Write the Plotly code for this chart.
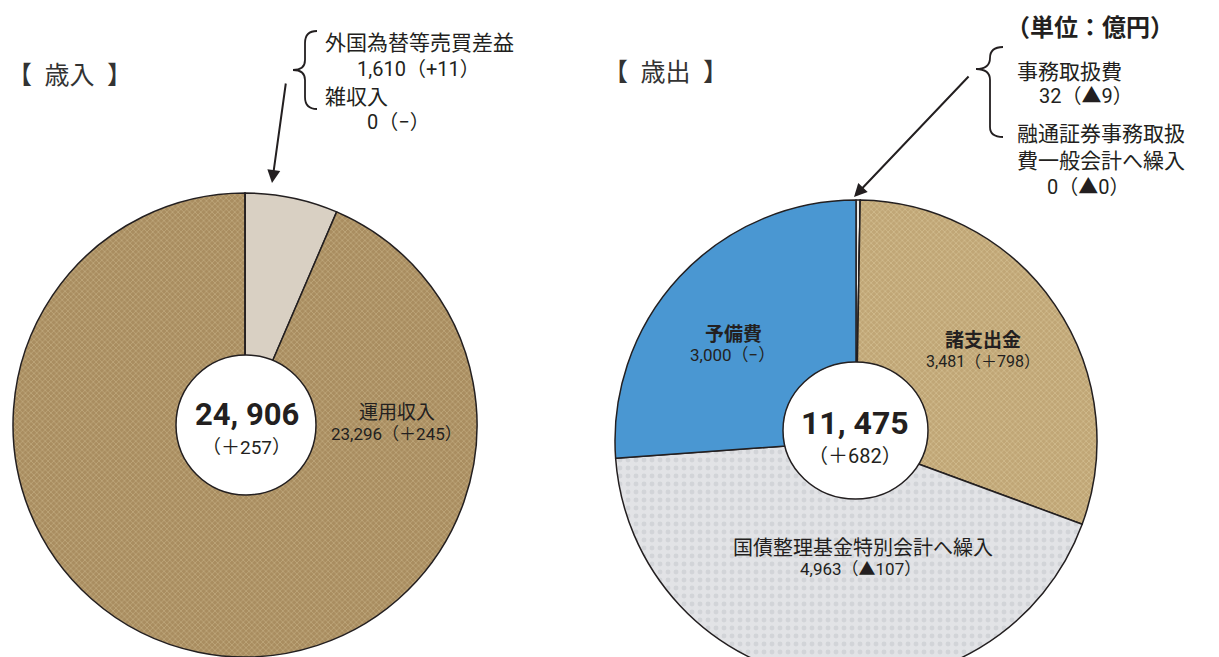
import plotly.graph_objects as go

# ---------------- data ----------------
rev_labels = ["外国為替等売買差益", "運用収入", "雑収入"]
rev_values = [1610, 23296, 0]
rev_changes = ["+11", "＋245", "−"]
rev_total = "24, 906"
rev_total_change = "（＋257）"

exp_labels = ["事務取扱費", "融通証券事務取扱費一般会計へ繰入", "諸支出金", "国債整理基金特別会計へ繰入", "予備費"]
exp_values = [32, 0, 3481, 4963, 3000]
exp_changes = ["▲9", "▲0", "＋798", "▲107", "−"]
exp_total = "11, 475"
exp_total_change = "（＋682）"

unit_label = "（単位：億円）"
rev_title = "【\u2002歳入\u2002】"
exp_title = "【\u2002歳出\u2002】"

# ---------------- layout helpers ----------------
W, H = 1219, 690
def px(x): return x / W
def py(y): return 1 - y / H

CJK = "Noto Sans CJK JP"
NUM = "Roboto, Noto Sans CJK JP"
TXT = "#231f20"

def fmt(v):
    return f"{v:,}"

fig = go.Figure()

line = dict(color="#231f20", width=1.5)

fig.add_trace(go.Pie(
    labels=rev_labels, values=rev_values, sort=False, direction="clockwise", rotation=0,
    textinfo="none", hoverinfo="label+value", showlegend=False,
    domain=dict(x=[px(13), px(477)], y=[py(657), py(193)]),
    marker=dict(colors=["#d9d0c3", "#a98d60", "#d9d0c3"], line=line,
                pattern=dict(shape=["", "x", ""], fgcolor=["#d9d0c3", "#d8c59c", "#d9d0c3"],
                             size=[6, 4, 6], solidity=[0.2, 0.35, 0.2], fillmode="overlay")),
))

fig.add_trace(go.Pie(
    labels=exp_labels, values=exp_values, sort=False, direction="clockwise", rotation=0,
    textinfo="none", hoverinfo="label+value", showlegend=False,
    domain=dict(x=[px(615), px(1097)], y=[py(682), py(200)]),
    marker=dict(colors=["#ecebe8", "#ecebe8", "#c0a676", "#e2e3e6", "#4a97d2"], line=line,
                pattern=dict(shape=["", "", "x", ".", ""],
                             fgcolor=["#ecebe8", "#ecebe8", "#e4d3ab", "#c2c5ca", "#4a97d2"],
                             size=[6, 6, 4, 8, 6], solidity=[0.2, 0.2, 0.35, 0.3, 0.2],
                             fillmode="overlay")),
))

shapes = []
# holes
shapes.append(dict(type="circle", xref="paper", yref="paper",
                   x0=px(176), x1=px(316), y0=py(495), y1=py(355),
                   fillcolor="white", line=dict(color="#231f20", width=1.5)))
shapes.append(dict(type="circle", xref="paper", yref="paper",
                   x0=px(783), x1=px(928), y0=py(499), y1=py(362),
                   fillcolor="white", line=dict(color="#231f20", width=1.5)))

def path(pts):
    s = ""
    for cmd, coords in pts:
        s += cmd + " " + " ".join(f"{px(coords[i]):.5f},{py(coords[i+1]):.5f}" for i in range(0, len(coords), 2)) + " "
    return s.strip()

# left brace
shapes.append(dict(type="path", xref="paper", yref="paper", line=dict(color=TXT, width=1.8),
                   path=path([("M", [317, 31]), ("Q", [305, 31, 305, 43]), ("L", [305, 60]),
                              ("Q", [305, 70, 293, 70]), ("Q", [305, 70, 305, 80]), ("L", [305, 97]),
                              ("Q", [305, 109, 317, 109])])))
# right brace
shapes.append(dict(type="path", xref="paper", yref="paper", line=dict(color=TXT, width=1.8),
                   path=path([("M", [1003, 47]), ("Q", [990, 47, 990, 58]), ("Q", [990, 69, 976, 69]),
                              ("Q", [990, 69, 990, 80]), ("L", [990, 127]),
                              ("Q", [990, 137, 1003, 137])])))

anns = []
def ann(text, x, y, size, family=CJK, bold=False, xanchor="center", color=TXT, align="center"):
    if bold:
        text = f"<b>{text}</b>"
    anns.append(dict(text=text, x=px(x), y=py(y), xref="paper", yref="paper",
                     xanchor=xanchor, yanchor="middle", showarrow=False, borderpad=0,
                     align=align, font=dict(family=family, size=size, color=color)))

# titles
ann(rev_title, 6, 73, 25, xanchor="left", color="#333333")
ann(exp_title, 602, 70, 25, xanchor="left", color="#333333")
ann(unit_label, 1090, 26, 24, bold=True)

# revenue small items
ann(rev_labels[0], 324, 41, 21, xanchor="left")
ann(f"{fmt(rev_values[0])}（{rev_changes[0]}）", 356, 69, 20, family=NUM, xanchor="left")
ann(rev_labels[2], 324, 95, 21, xanchor="left")
ann(f"{fmt(rev_values[2])}（{rev_changes[2]}）", 366, 122, 20, family=NUM, xanchor="left")

# expenditure small items
ann(exp_labels[0], 1016, 70, 21, xanchor="left")
ann(f"{fmt(exp_values[0])}（{exp_changes[0]}）", 1038, 96, 20, family=NUM, xanchor="left")
ann("融通証券事務取扱<br>費一般会計へ繰入", 1016, 146, 21, xanchor="left", align="left")
ann(f"{fmt(exp_values[1])}（{exp_changes[1]}）", 1046, 187, 20, family=NUM, xanchor="left")

# in-pie labels
ann(rev_labels[1], 397, 410, 19)
ann(f"{fmt(rev_values[1])}（{rev_changes[1]}）", 396, 434, 17, family=NUM)
ann(exp_labels[4], 733, 332, 19, bold=True)
ann(f"{fmt(exp_values[4])}（{exp_changes[4]}）", 732, 355, 17, family=NUM)
ann(exp_labels[2], 983, 338, 19, bold=True)
ann(f"{fmt(exp_values[2])}（{exp_changes[2]}）", 983, 361, 16, family=NUM)
ann(exp_labels[3], 863, 546, 20)
ann(f"{fmt(exp_values[3])}（{exp_changes[3]}）", 860, 569, 17, family=NUM)

# totals
ann(rev_total, 247, 414, 31, family=NUM, bold=True)
ann(rev_total_change, 246, 447, 19, family=NUM)
ann(exp_total, 855, 423, 32, family=NUM, bold=True)
ann(exp_total_change, 855, 456, 20, family=NUM)

# arrows
anns.append(dict(text="", x=px(272), y=py(183), xref="paper", yref="paper",
                 ax=14, ay=-101, axref="pixel", ayref="pixel", showarrow=True,
                 arrowhead=2, arrowsize=1.3, arrowwidth=2, arrowcolor=TXT))
anns.append(dict(text="", x=px(854), y=py(197), xref="paper", yref="paper",
                 ax=116, ay=-122, axref="pixel", ayref="pixel", showarrow=True,
                 arrowhead=2, arrowsize=1.3, arrowwidth=2, arrowcolor=TXT))

fig.update_layout(width=W, height=H, margin=dict(l=0, r=0, t=0, b=0),
                  paper_bgcolor="white", plot_bgcolor="white",
                  shapes=shapes, annotations=anns)

fig.write_html("out.html", config={"displayModeBar": False},
               post_script="document.body.style.margin='0';document.body.style.overflow='hidden';")
